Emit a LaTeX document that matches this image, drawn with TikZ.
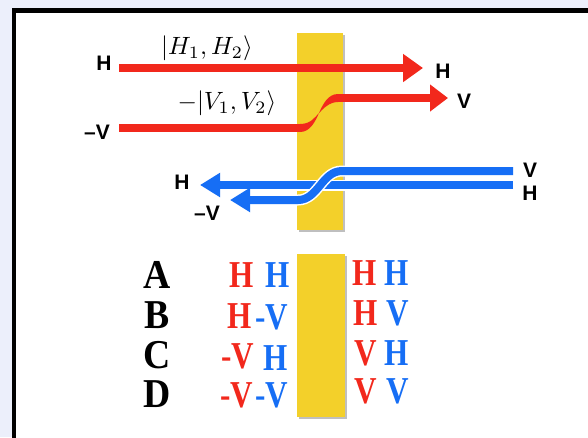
\documentclass[tikz,border=0pt]{standalone}
\usepackage{fontspec}
\setmainfont{Liberation Serif}
\newfontfamily\labfont{Liberation Sans}
\newfontfamily\tabfont[FakeStretch=0.82]{Liberation Serif}
\newfontfamily\letfont[FakeStretch=0.92]{Liberation Serif}
\usetikzlibrary{arrows.meta,shadows}
\definecolor{rd}{RGB}{242,40,28}
\definecolor{bl}{RGB}{22,110,245}
\definecolor{yl}{RGB}{243,208,42}
\definecolor{bgc}{RGB}{236,239,251}
\begin{document}
\begin{tikzpicture}[x=1pt,y=-1pt,
  redln/.style={draw=rd,line width=8pt},
  blueln/.style={draw=bl,line width=8pt},
  halo/.style={draw=white,line width=11pt},
  lab/.style={font=\fontsize{21}{21}\selectfont\labfont\bfseries,inner sep=0pt},
  mlab/.style={inner sep=0pt},
  bar/.style={fill=yl,inner sep=0pt,draw=none,drop shadow={shadow xshift=2pt,shadow yshift=-2pt,opacity=0.25,fill=black}},
  letter/.style={font=\fontsize{41}{41}\selectfont\letfont\bfseries,inner sep=0pt,anchor=base},
  rtab/.style={font=\fontsize{38}{38}\selectfont\tabfont\bfseries,inner sep=0pt,anchor=base,text=rd},
  btab/.style={font=\fontsize{38}{38}\selectfont\tabfont\bfseries,inner sep=0pt,anchor=base,text=bl}]
\useasboundingbox (0,0) rectangle (588,437);
\clip (0,0) rectangle (588,437);
\fill[bgc] (0,0) rectangle (588,437);
\draw[line width=4.5pt,fill=white] (14,10.5) rectangle (640,480);

% bars
\node[bar,minimum width=46pt,minimum height=197pt] (bar1) at (320,131.5) {};
\node[bar,minimum width=48pt,minimum height=163pt] (bar2) at (321,335.5) {};

% red H path
\coordinate (rh0) at (119,68);
\coordinate (rh1) at (423,68);
\draw[redln,-{Triangle[length=20pt,width=27pt]}] (rh0) -- (rh1);

% red V path
\coordinate (rv0) at (119,128);
\coordinate (rv1) at (301,128);
\coordinate (rv2) at (337,98);
\coordinate (rv3) at (448,98);
\draw[redln] (rv0) -- (rv1);
\fill[rd] (300,124) .. controls (311,124) and (315,117) .. (319,113)
  .. controls (315,122) and (310,132) .. (300,132) -- cycle;
\fill[rd] (319,113) .. controls (323,104) and (328,94) .. (338,94)
  -- (338,102) .. controls (329,102) and (323,109) .. (319,113) -- cycle;
\draw[redln,-{Triangle[length=18pt,width=26pt]}] (rv2) -- (rv3);

% blue paths
\coordinate (bh0) at (513,185);
\coordinate (bh1) at (200,185);
\coordinate (bv0) at (513,171);
\coordinate (bv1) at (342,171);
\coordinate (bv2) at (298,200);
\coordinate (bv3) at (230,200);
\draw[halo] (bh0) -- (222,185);
\draw[blueln,-{Triangle[length=20pt,width=23pt]}] (bh0) -- (bh1);
\draw[halo] (bv0) -- (bv1) .. controls (322,171) and (318,200) .. (bv2) -- (252,200);
\draw[blueln,-{Triangle[length=20pt,width=23pt]}] (bv0) -- (bv1) .. controls (322,171) and (318,200) .. (bv2) -- (bv3);

% labels upper
\node[lab] (lH1) at (104,63) {H};
\node[lab] (lH2) at (443,71) {H};
\node[lab] (lV1) at (97,132) {–V};
\node[lab] (lV2) at (464,101) {V};
\node[lab] (lV3) at (530,170) {V};
\node[lab] (lH3) at (530,193) {H};
\node[lab] (lH4) at (182,182) {H};
\node[lab] (lV4) at (207,213) {–V};
\node[mlab] (kH) at (207,48) {\scalebox{2.5}{$|H_{1},H_{2}\rangle$}};
\node[mlab] (kV) at (227,103) {\scalebox{2.5}{$-|V_{1},V_{2}\rangle$}};

% table
\node[letter] (A) at (157,288) {A};
\node[letter] (B) at (157,328) {B};
\node[letter] (C) at (157,368) {C};
\node[letter] (D) at (157,407) {D};

\node[rtab] (a1) at (242,287) {H};
\node[btab] (a2) at (278,287) {H};
\node[rtab] (a3) at (365,285) {H};
\node[btab] (a4) at (397,285) {H};

\node[rtab] (b1) at (240,328) {H};
\node[btab] (b2) at (272,329) {-V};
\node[rtab] (b3) at (366,325) {H};
\node[btab] (b4) at (398,325) {V};

\node[rtab] (c1) at (238,368) {-V};
\node[btab] (c2) at (276,370) {H};
\node[rtab] (c3) at (366,365) {V};
\node[btab] (c4) at (397,365) {H};

\node[rtab] (d1) at (237,407) {-V};
\node[btab] (d2) at (272,407) {-V};
\node[rtab] (d3) at (366,403) {V};
\node[btab] (d4) at (398,403) {V};
\end{tikzpicture}
\end{document}
